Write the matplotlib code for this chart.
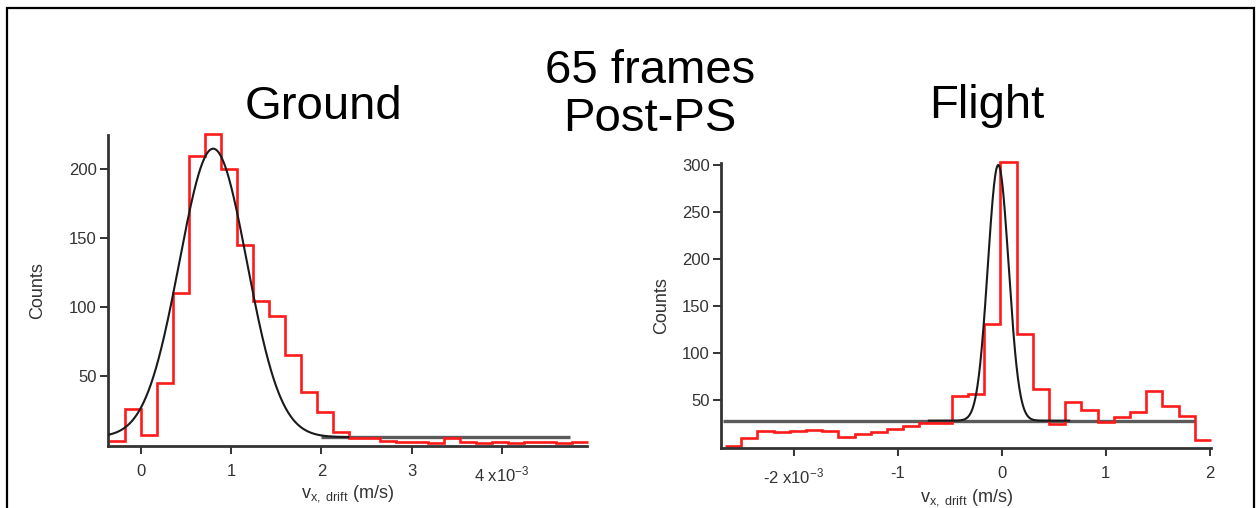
import numpy as np
import matplotlib
matplotlib.use('Agg')
import matplotlib.pyplot as plt
from matplotlib.patches import Rectangle

plt.rcParams['font.family'] = ['Liberation Sans', 'DejaVu Sans']
plt.rcParams['mathtext.fontset'] = 'custom'
plt.rcParams['mathtext.rm'] = 'Liberation Sans'
plt.rcParams['mathtext.it'] = 'Liberation Sans:italic'

# ---- data (velocity in units of 1e-3 m/s) ----
# Ground histogram
ground_bin_start = -0.354
ground_bin_width = 0.177
ground_counts = [3, 26, 7, 45, 110, 209, 225, 200, 145, 104, 93, 65, 38, 24, 9,
                 5, 5, 3, 2, 2, 1, 5, 2, 1, 2, 1, 2, 2, 1, 2]
# Ground gaussian fit: center, amplitude, width, baseline
ground_fit_x0 = 0.80
ground_fit_amp = 209
ground_fit_sigma = 0.375
ground_fit_base = 5.5
ground_fit_range = (-0.37, 2.3)
ground_base_range = (2.0, 4.76)

# Flight histogram
flight_bin_start = -2.66
flight_bin_width = 0.1558
flight_counts = [1, 10, 17, 16, 17, 18, 17, 11, 14, 16, 19, 22, 26, 26, 54, 56,
                 131, 303, 120, 62, 24, 48, 39, 27, 32, 37, 60, 44, 33, 7]
# Flight gaussian fit
flight_fit_x0 = -0.033
flight_fit_amp = 272
flight_fit_sigma = 0.1
flight_fit_base = 28
flight_fit_range = (-0.7, 0.65)
flight_base_range = (-2.68, 1.86)

ground_xticks = [0, 1, 2, 3, 4]
ground_xticklabels = ['0', '1', '2', '3', r'4 x10$^{\mathregular{-3}}$']
ground_yticks = [50, 100, 150, 200]
flight_xticks = [-2, -1, 0, 1, 2]
flight_xticklabels = [r'-2 x10$^{\mathregular{-3}}$', '-1', '0', '1', '2']
flight_yticks = [50, 100, 150, 200, 250, 300]

W, H = 1257, 508
fig = plt.figure(figsize=(W / 100, H / 100), dpi=100)
ax1 = fig.add_axes([108 / W, 62 / H, 479 / W, 311 / H])
ax2 = fig.add_axes([721 / W, 59.7 / H, 490 / W, 285 / H])

xlabel = r'v$_{\mathregular{x,\ drift}}$ (m/s)'


def gauss(x, x0, amp, sigma, base):
    return base + amp * np.exp(-(x - x0) ** 2 / (2 * sigma ** 2))


def draw(ax, start, width, counts, fit, fit_range, base_range):
    edges = start + width * np.arange(len(counts) + 1)
    ax.plot(base_range, [fit[3], fit[3]], color='#5a5a5a', lw=2.4, zorder=1,
            solid_capstyle='butt')
    st = ax.stairs(counts, edges, baseline=None, color='#ff1a1a', lw=1.9, zorder=2)
    st.set_clip_on(False)
    xs = np.linspace(fit_range[0], fit_range[1], 400)
    ax.plot(xs, gauss(xs, *fit), color='#1a1a1a', lw=1.5, zorder=3)


def style(ax):
    for s in ['top', 'right']:
        ax.spines[s].set_visible(False)
    for s in ['left', 'bottom']:
        ax.spines[s].set_linewidth(2.0)
        ax.spines[s].set_color('#333333')
    ax.tick_params(direction='out', length=6, width=1.4, color='#333333',
                   labelcolor='#333333', labelsize=12)
    ax.tick_params(axis='x', pad=7)
    ax.tick_params(axis='y', pad=2)
    ax.set_ylabel('Counts', fontsize=13, color='#333333')
    ax.set_xlabel(xlabel, fontsize=13, color='#333333')


draw(ax1, ground_bin_start, ground_bin_width, ground_counts,
     (ground_fit_x0, ground_fit_amp, ground_fit_sigma, ground_fit_base),
     ground_fit_range, ground_base_range)
ax1.set_xlim(-0.366, 4.945)
ax1.set_ylim(-0.9, 224.4)
ax1.set_xticks(ground_xticks)
ax1.set_xticklabels(ground_xticklabels)
ax1.set_yticks(ground_yticks)
style(ax1)
ax1.yaxis.set_label_coords(-0.129, 0.5)
ax1.xaxis.set_label_coords(0.5, -0.12)

draw(ax2, flight_bin_start, flight_bin_width, flight_counts,
     (flight_fit_x0, flight_fit_amp, flight_fit_sigma, flight_fit_base),
     flight_fit_range, flight_base_range)
ax2.set_xlim(-2.699, 2.013)
ax2.set_ylim(-1.4, 301.8)
ax2.set_xticks(flight_xticks)
ax2.set_xticklabels(flight_xticklabels)
ax2.set_yticks(flight_yticks)
style(ax2)
ax2.yaxis.set_label_coords(-0.104, 0.5)
ax2.xaxis.set_label_coords(0.5, -0.137)

# titles
fig.text(650 / W, 1 - 83 / H, '65 frames', fontsize=34, ha='center', va='baseline')
fig.text(650 / W, 1 - 131 / H, 'Post-PS', fontsize=34, ha='center', va='baseline')
fig.text(323 / W, 1 - 119 / H, 'Ground', fontsize=34, ha='center', va='baseline')
fig.text(987 / W, 1 - 118 / H, 'Flight', fontsize=34, ha='center', va='baseline')

# outer frame
fig.add_artist(Rectangle((7 / W, -0.1), (1254 - 7) / W, 1.1 - 8 / H,
                         transform=fig.transFigure, fill=False, lw=1.6,
                         ec='black'))

fig.savefig('out.png', dpi=100)
